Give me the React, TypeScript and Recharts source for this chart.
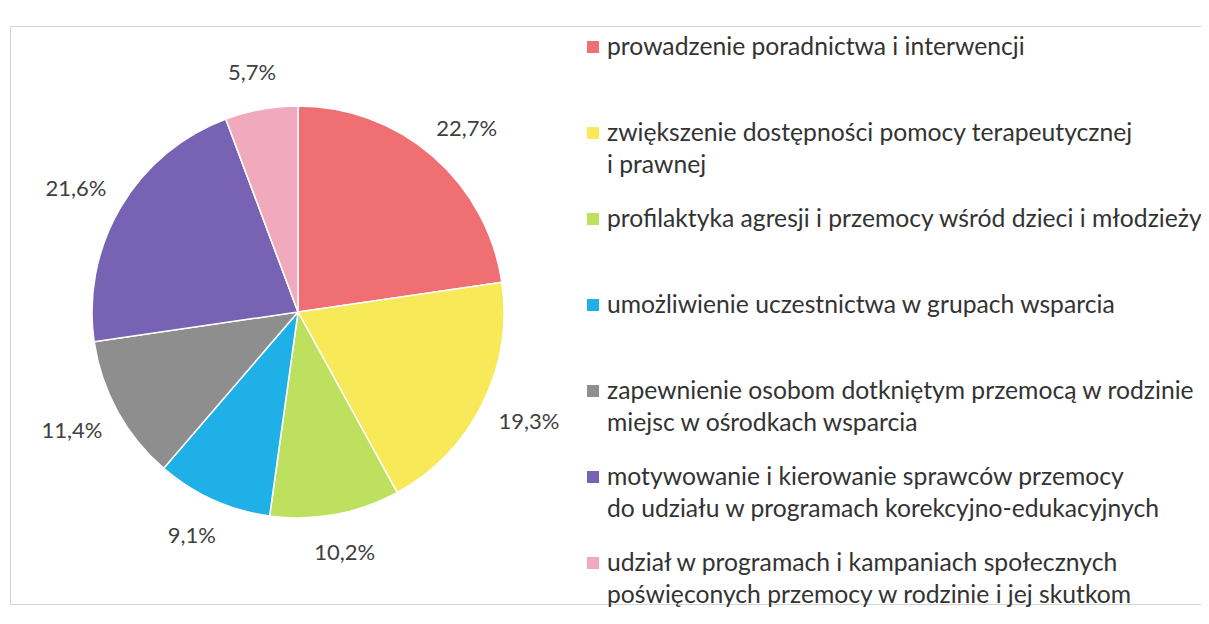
import { PieChart, Pie, Cell } from "recharts";

const categories = [
  "prowadzenie poradnictwa i interwencji",
  "zwiększenie dostępności pomocy terapeutycznej\ni prawnej",
  "profilaktyka agresji i przemocy wśród dzieci i młodzieży",
  "umożliwienie uczestnictwa w grupach wsparcia",
  "zapewnienie osobom dotkniętym przemocą w rodzinie\nmiejsc w ośrodkach wsparcia",
  "motywowanie i kierowanie sprawców przemocy\ndo udziału w programach korekcyjno-edukacyjnych",
  "udział w programach i kampaniach społecznych\npoświęconych przemocy w rodzinie i jej skutkom",
];

const shares = [22.7, 19.3, 10.2, 9.1, 11.4, 21.6, 5.7];

const colors = [
  "#ef6f72",
  "#f7e957",
  "#bde05e",
  "#1fb0e8",
  "#8e8e8e",
  "#7862b3",
  "#f1a9bd",
];

const data = categories.map((name, i) => ({ name, value: shares[i] }));

const FONT = "Lato, 'Open Sans', sans-serif";
const RAD = Math.PI / 180;

const renderLabel = (props: any) => {
  const { cx, cy, midAngle, outerRadius, value } = props;
  const cos = Math.cos(-midAngle * RAD);
  const sin = Math.sin(-midAngle * RAD);
  const r = outerRadius + 38;
  const x = cx + r * cos + 14 * cos;
  const y = cy + r * sin;
  return (
    <text
      x={x}
      y={y}
      fill="#404040"
      fontSize={22}
      fontFamily={FONT}
      textAnchor="middle"
      dominantBaseline="central"
    >
      {value.toFixed(1).replace(".", ",")}%
    </text>
  );
};

export default function App() {
  return (
    <div
      style={{
        position: "relative",
        width: 1209,
        height: 624,
        margin: -8,
        background: "#fff",
        overflow: "hidden",
        fontFamily: FONT,
      }}
    >
      {/* frame */}
      <div
        style={{
          position: "absolute",
          left: 10,
          top: 26,
          width: 1200,
          height: 579,
          border: "1px solid #d4d4d4",
          boxSizing: "border-box",
        }}
      />

      <div style={{ position: "absolute", left: 0, top: 0 }}>
        <PieChart width={600} height={624}>
          <Pie
            data={data}
            dataKey="value"
            nameKey="name"
            cx={293}
            cy={307}
            outerRadius={206}
            startAngle={90}
            endAngle={-270}
            stroke="#ffffff"
            strokeWidth={1.5}
            label={renderLabel}
            labelLine={false}
            isAnimationActive={false}
          >
            {data.map((d, i) => (
              <Cell key={d.name} fill={colors[i]} />
            ))}
          </Pie>
        </PieChart>
      </div>

      {/* legend */}
      <div style={{ position: "absolute", left: 587, top: 30 }}>
        {categories.map((c, i) => (
          <div
            key={c}
            style={{ height: 86, display: "flex", alignItems: "flex-start" }}
          >
            <span
              style={{
                width: 12,
                height: 12,
                marginTop: 11,
                marginRight: 8,
                background: colors[i],
                flex: "none",
              }}
            />
            <div
              style={{
                fontSize: 24.7,
                lineHeight: "32px",
                color: "#333",
                whiteSpace: "pre",
              }}
            >
              {c}
            </div>
          </div>
        ))}
      </div>
    </div>
  );
}
